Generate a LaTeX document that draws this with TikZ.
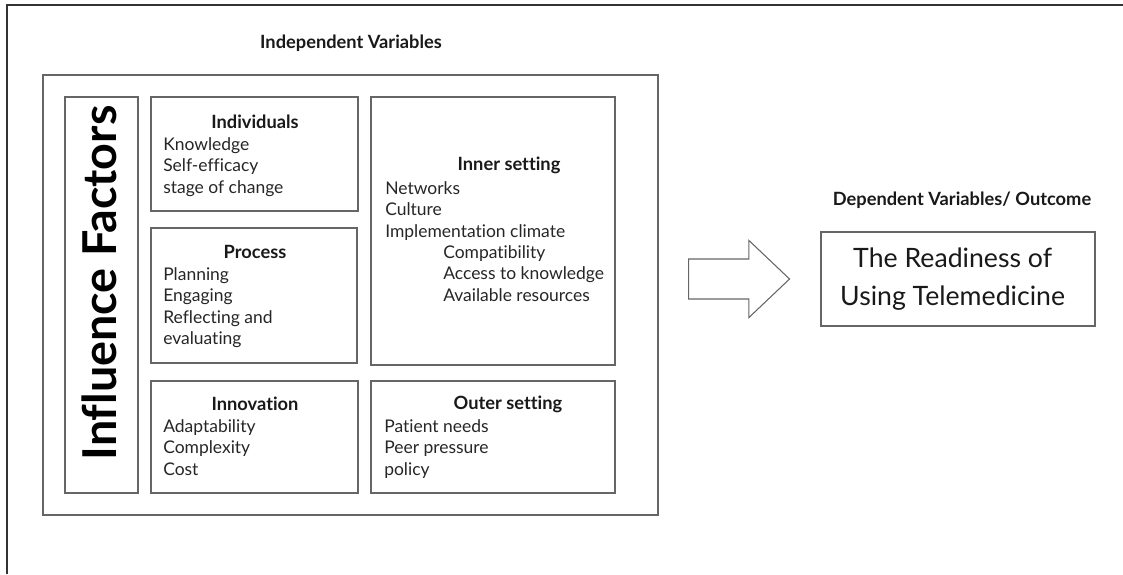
\documentclass[tikz,border=0pt]{standalone}
\usepackage{fontspec}
\setmainfont{Lato}[Ligatures=NoCommon]
\usetikzlibrary{fit,shapes.arrows}

\begin{document}
\begin{tikzpicture}[x=0.75pt,y=-0.75pt,
  box/.style={draw=black!60, line width=1pt, inner sep=0pt},
  heading/.style={font=\fontsize{13.7}{16}\selectfont\bfseries, text=black!90},
  items/.style={font=\fontsize{13.1}{16.1}\selectfont, text=black!85, align=left, anchor=north west, inner sep=0pt}]
\useasboundingbox (0,0) rectangle (1123,574);
\draw[black!80, line width=1.5pt] (7,574)--(7,5)--(1123,5);

% independent variables
\node[heading] (indep) at (351,43) {Independent Variables};
\node[box, fit={(43,75) (658,515)}] (outer) {};
\node[box, fit={(65,97) (138,493)}] (infl) {};
\node[rotate=90, font=\fontsize{35}{40}\selectfont\bfseries, text=black] (infltxt) at (99,283) {Influence Factors};

\node[box, fit={(151,97) (358,211)}] (indiv) {};
\node[heading] (indivhd) at (255,122) {Individuals};
\node[items] (indivls) at (163,137) {Knowledge\\Self-efficacy\\stage of change};

\node[box, fit={(151,228) (357,363)}] (proc) {};
\node[heading] (prochd) at (255,252) {Process};
\node[items] (procls) at (163,267) {Planning\\Engaging\\Reflecting and\\evaluating};

\node[box, fit={(151,381) (358,493)}] (innov) {};
\node[heading] (innovhd) at (255,404) {Innovation};
\node[items] (innovls) at (163,419) {Adaptability\\Complexity\\Cost};

\node[box, fit={(371,97) (615,365)}] (inner) {};
\node[heading] (innerhd) at (509,165) {Inner setting};
\node[items] (innerls) at (385,181) {Networks\\Culture\\Implementation climate\\
  \hspace{43.5pt}Compatibility\\\hspace{43.5pt}Access to knowledge\\\hspace{43.5pt}Available resources};

\node[box, fit={(371,381) (615,493)}] (outset) {};
\node[heading] (outsethd) at (508,404) {Outer setting};
\node[items] (outsetls) at (384,419) {Patient needs\\Peer pressure\\policy};

% block arrow
\node[single arrow, draw=black!60, line width=0.8pt, inner sep=14.6pt, minimum height=75.75pt,
  minimum width=57pt, single arrow head extend=13.9pt, single arrow tip angle=87,
  anchor=tail] (arr) at (688,279) {};

% outcome
\node[heading] (dep) at (962,200) {Dependent Variables/ Outcome};
\node[box, fit={(821,232) (1095,326)}] (ready) {};
\node[align=center, font=\fontsize{20}{28.5}\selectfont, text=black!90] (readytxt) at ([xshift=-4pt]ready.center) {The Readiness of\\Using Telemedicine};
\end{tikzpicture}
\end{document}
